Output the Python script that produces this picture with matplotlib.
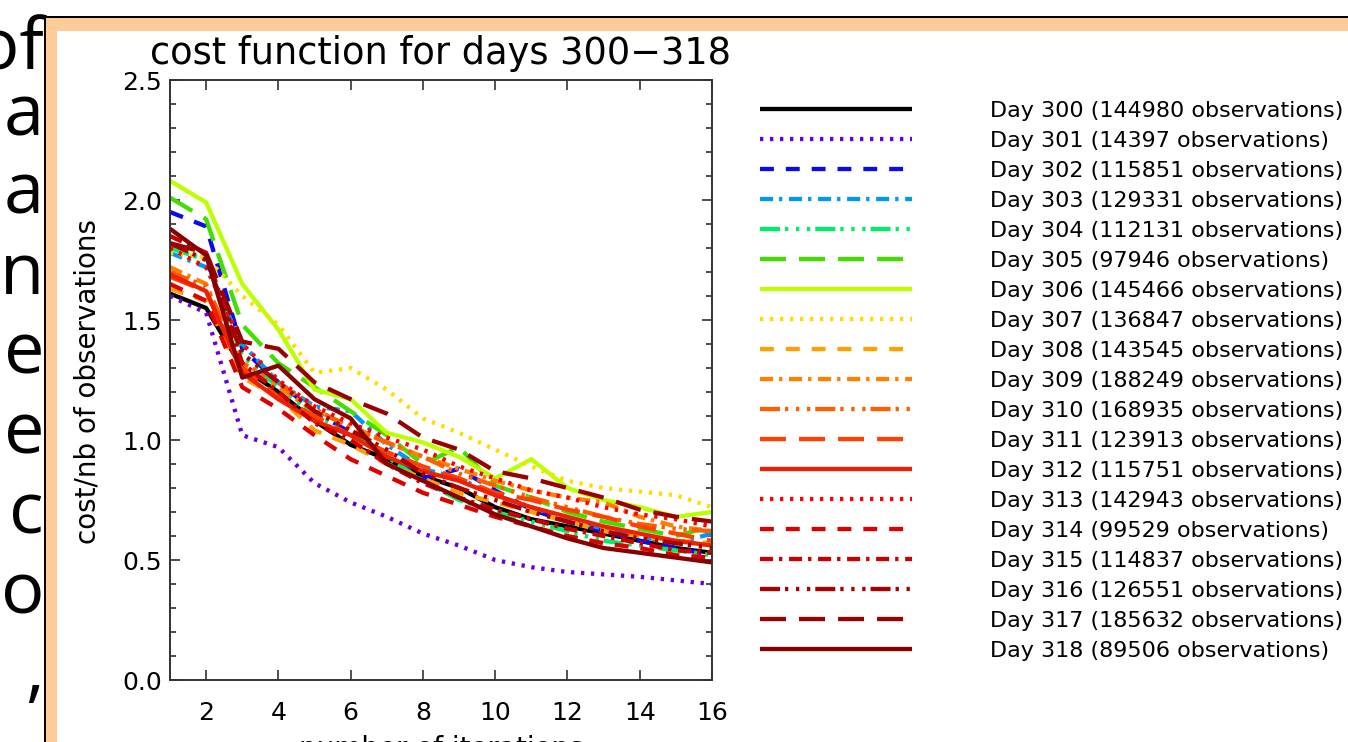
import matplotlib
matplotlib.use("Agg")
import matplotlib.pyplot as plt
from matplotlib.patches import Rectangle

# --- data ------------------------------------------------------------------
iterations = list(range(1, 17))
days = list(range(300, 319))
n_obs = [144980, 14397, 115851, 129331, 112131, 97946, 145466, 136847, 143545,
         188249, 168935, 123913, 115751, 142943, 99529, 114837, 126551, 185632, 89506]

cost_300 = [1.61, 1.55, 1.30, 1.20, 1.08, 0.98, 0.92, 0.85, 0.80, 0.72, 0.67, 0.64, 0.61, 0.58, 0.55, 0.53]
cost_301 = [1.60, 1.53, 1.02, 0.97, 0.82, 0.74, 0.68, 0.61, 0.56, 0.50, 0.47, 0.45, 0.44, 0.43, 0.415, 0.40]
cost_302 = [1.95, 1.89, 1.38, 1.24, 1.12, 1.03, 0.93, 0.84, 0.88, 0.79, 0.71, 0.66, 0.62, 0.58, 0.55, 0.52]
cost_303 = [1.78, 1.72, 1.40, 1.24, 1.14, 1.12, 0.98, 0.88, 0.84, 0.77, 0.72, 0.67, 0.63, 0.60, 0.57, 0.61]
cost_304 = [1.80, 1.75, 1.35, 1.22, 1.10, 1.04, 0.93, 0.83, 0.75, 0.70, 0.66, 0.62, 0.58, 0.56, 0.54, 0.52]
cost_305 = [2.01, 1.92, 1.48, 1.32, 1.22, 1.12, 1.02, 0.90, 0.97, 0.81, 0.76, 0.70, 0.66, 0.63, 0.60, 0.64]
cost_306 = [2.08, 1.99, 1.65, 1.46, 1.21, 1.17, 1.03, 0.99, 0.93, 0.84, 0.92, 0.80, 0.75, 0.72, 0.68, 0.70]
cost_307 = [1.78, 1.76, 1.60, 1.48, 1.28, 1.30, 1.21, 1.09, 1.03, 0.96, 0.89, 0.83, 0.80, 0.785, 0.77, 0.72]
cost_308 = [1.63, 1.58, 1.26, 1.18, 1.04, 0.98, 0.90, 0.84, 0.78, 0.74, 0.70, 0.66, 0.62, 0.60, 0.58, 0.57]
cost_309 = [1.72, 1.65, 1.30, 1.22, 1.12, 1.06, 0.99, 0.93, 0.88, 0.83, 0.79, 0.76, 0.74, 0.68, 0.64, 0.62]
cost_310 = [1.70, 1.64, 1.32, 1.24, 1.13, 1.05, 0.99, 0.93, 0.86, 0.81, 0.76, 0.72, 0.68, 0.65, 0.63, 0.62]
cost_311 = [1.68, 1.62, 1.30, 1.18, 1.10, 1.02, 0.95, 0.89, 0.84, 0.78, 0.75, 0.71, 0.68, 0.64, 0.61, 0.58]
cost_312 = [1.69, 1.62, 1.28, 1.17, 1.08, 1.02, 0.93, 0.87, 0.83, 0.77, 0.72, 0.68, 0.64, 0.61, 0.58, 0.56]
cost_313 = [1.80, 1.72, 1.40, 1.25, 1.14, 1.07, 1.01, 0.96, 0.89, 0.84, 0.79, 0.76, 0.72, 0.69, 0.67, 0.64]
cost_314 = [1.65, 1.58, 1.22, 1.13, 1.02, 0.92, 0.85, 0.78, 0.73, 0.68, 0.64, 0.60, 0.57, 0.55, 0.52, 0.51]
cost_315 = [1.85, 1.78, 1.32, 1.20, 1.07, 1.00, 0.90, 0.82, 0.76, 0.71, 0.67, 0.63, 0.60, 0.57, 0.54, 0.53]
cost_316 = [1.82, 1.75, 1.36, 1.24, 1.12, 1.04, 0.96, 0.86, 0.80, 0.75, 0.70, 0.66, 0.62, 0.59, 0.57, 0.55]
cost_317 = [1.82, 1.78, 1.41, 1.38, 1.24, 1.17, 1.11, 1.01, 0.96, 0.87, 0.84, 0.80, 0.76, 0.71, 0.68, 0.66]
cost_318 = [1.88, 1.77, 1.26, 1.31, 1.17, 1.09, 0.90, 0.83, 0.76, 0.69, 0.64, 0.59, 0.55, 0.53, 0.51, 0.49]

costs = [cost_300, cost_301, cost_302, cost_303, cost_304, cost_305, cost_306,
         cost_307, cost_308, cost_309, cost_310, cost_311, cost_312, cost_313,
         cost_314, cost_315, cost_316, cost_317, cost_318]

x_ticks = [2, 4, 6, 8, 10, 12, 14, 16]
y_ticks = [0.0, 0.5, 1.0, 1.5, 2.0, 2.5]
slide_letters = ["of", "a", "a", "n", "e", "e", "c", "o", ","]

# --- styling ----------------------------------------------------------------
colors = ["#000000", "#6a00e0", "#0a0aee", "#0099ee", "#00ee66", "#44dd00",
          "#bbff00", "#ffdd00", "#ffa000", "#ff7f00", "#ff5e00", "#ff4000",
          "#ee2000", "#ff0000", "#dd0000", "#cc0000", "#aa0000", "#990000",
          "#880000"]

# IDL linestyles 0..5, in points (not scaled by linewidth)
idl_styles = [
    "-",
    (0, (2.4, 4.8)),
    (0, (10.0, 8.6)),
    (0, (9.4, 4.3, 2.4, 4.8)),
    (0, (14.4, 3.6, 2.4, 5.5, 2.4, 5.5, 2.4, 3.6)),
    (0, (18.7, 9.4)),
]

W, H = 1348, 742
plt.rcParams["lines.scale_dashes"] = False
plt.rcParams["font.family"] = ["DejaVu Sans"]


def fx(px):
    return px / W


def fy(py):
    return 1 - py / H


fig = plt.figure(figsize=(W / 100, H / 100), dpi=100)

# slide background: black frame line, peach border, white panel
fig.add_artist(Rectangle((fx(44), 0), 1, fy(16), transform=fig.transFigure,
                         facecolor="black", edgecolor="none", zorder=-10))
fig.add_artist(Rectangle((fx(46), 0), 1, fy(18), transform=fig.transFigure,
                         facecolor="#ffcc99", edgecolor="none", zorder=-9))
fig.add_artist(Rectangle((fx(57), 0), 1, fy(31), transform=fig.transFigure,
                         facecolor="white", edgecolor="none", zorder=-8))

# cropped slide text on the left
baselines = [70, 135, 214, 294, 374, 454, 534, 614, 694]
for letter, b in zip(slide_letters, baselines):
    fig.text(fx(44), fy(b), letter, ha="right", va="baseline", fontsize=52,
             family="Open Sans", color="black")

ax = fig.add_axes([fx(170), fy(680), fx(712) - fx(170), fy(80) - fy(680)])

for i, (day, vals) in enumerate(zip(days, costs)):
    ax.plot(iterations, vals, color=colors[i], linestyle=idl_styles[i % 6],
            lw=3.1, solid_capstyle="butt", dash_capstyle="butt",
            label=f"Day {day} ({n_obs[i]} observations)")

ax.set_xlim(1, 16)
ax.set_ylim(0, 2.5)
ax.set_xticks(x_ticks)
ax.set_yticks(y_ticks)
ax.set_yticklabels([f"{v:.1f}" for v in y_ticks])
ax.set_yticks([v / 10 for v in range(26)], minor=True)
ax.tick_params(which="both", direction="in", top=True, right=True,
               color="#333333", width=1.2, labelsize=18)
ax.tick_params(which="major", length=7.5)
ax.tick_params(which="minor", length=4.5)
ax.tick_params(axis="x", pad=15)
ax.tick_params(axis="y", pad=6)
for sp in ax.spines.values():
    sp.set_color("#333333")
    sp.set_linewidth(1.4)

fig.text(fx(440), fy(53), "cost function for days 300\u2212318", ha="center",
         va="center", fontsize=26.5)
fig.text(fx(88), fy(382), "cost/nb of observations", ha="center", va="center",
         rotation=90, fontsize=20)
# axis title is cut by the bottom edge of the screenshot, as in the original
fig.text(fx(441), fy(735), "number of iterations", ha="center", va="top",
         fontsize=20)

ax.legend(loc="upper left", bbox_to_anchor=(fx(760), fy(101)),
          bbox_transform=fig.transFigure, frameon=False, fontsize=16,
          handlelength=6.85, handletextpad=3.5, labelspacing=0.45,
          borderpad=0, borderaxespad=0)

fig.savefig("out.png", dpi=100)
